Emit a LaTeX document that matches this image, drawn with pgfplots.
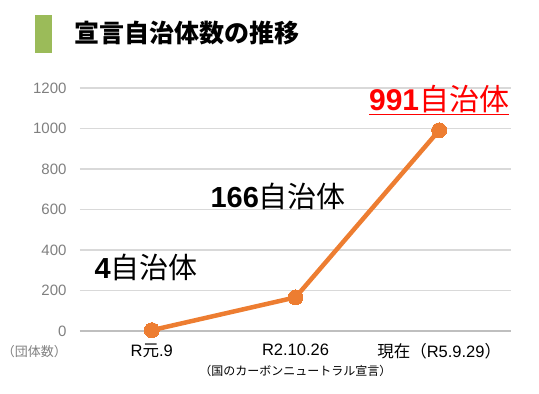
\documentclass[border=0pt]{standalone}
\usepackage{pgfplots}
\pgfplotsset{compat=1.18}
\usepackage{fontspec}
\setmainfont{Liberation Sans}
\newfontfamily\jp{Noto Sans CJK JP}
\definecolor{lineorange}{HTML}{ED7D31}
\definecolor{titlegreen}{HTML}{9BBB59}
\definecolor{gridgray}{HTML}{D9D9D9}
\definecolor{axisgray}{HTML}{BFBFBF}
\definecolor{labelgray}{HTML}{7F7F7F}
\begin{document}
\begin{tikzpicture}[x=1pt,y=1pt]
\path[use as bounding box] (0,0) rectangle (539,394);
\fill[titlegreen] (35,341) rectangle (52,379);
\node[anchor=west,inner sep=0pt] at (74,361) {\fontsize{25}{28}\selectfont\jp\bfseries 宣言自治体数の推移};
\node[anchor=east,inner sep=0pt,text=labelgray] at (67,42) {\fontsize{13}{15}\selectfont\jp （団体数）};
\begin{axis}[
  at={(80pt,63pt)}, anchor=south west,
  scale only axis, width=431pt, height=243pt,
  xmin=-0.5, xmax=2.5, ymin=0, ymax=1200,
  axis x line*=bottom, axis y line*=left,
  y axis line style={draw=none},
  x axis line style={draw=axisgray, line width=1.5pt},
  ytick={0,200,...,1200},
  ymajorgrids, grid style={draw=gridgray, line width=1.3pt},
  ytick style={draw=none},
  yticklabel style={text=labelgray, font=\fontsize{15}{17}\selectfont, /pgf/number format/assume math mode=true, xshift=-10pt},
  /pgf/number format/1000 sep={},
  xtick={0,1,2},
  xtick style={draw=none},
  xticklabels={{R{\jp 元}.9}, {R2.10.26\\[1pt]{\jp\fontsize{12}{14}\selectfont （国のカーボンニュートラル宣言）}}, {{\jp 現在（}R5.9.29{\jp ）}}},
  xticklabel style={align=center, font=\fontsize{16.5}{19}\selectfont, yshift=-9pt},
  extra x ticks={-0.5,0.5,1.5,2.5},
  extra x tick labels={},
  extra x tick style={tick align=inside, major tick length=5pt, tick style={draw=axisgray, line width=1.3pt}, grid=none},
  clip=false,
]
\addplot[color=lineorange, line width=4.5pt, mark=*, mark size=7.5pt, mark options={fill=lineorange, draw=lineorange, line width=0pt}] coordinates {(0,4) (1,166) (2,991)};
\node[anchor=base, inner sep=0pt] at (axis cs:-0.04,261) {\fontsize{29}{32}\selectfont\bfseries 4\mdseries{\jp 自治体}};
\node[anchor=base, inner sep=0pt] at (axis cs:0.88,612) {\fontsize{29}{32}\selectfont\bfseries 166\mdseries{\jp 自治体}};
\node[anchor=base, inner sep=0pt, text=red] at (axis cs:2.0,1091) {\fontsize{30}{33}\selectfont\underline{\bfseries 991\mdseries{\jp 自治体}}};
\end{axis}
\end{tikzpicture}
\end{document}
